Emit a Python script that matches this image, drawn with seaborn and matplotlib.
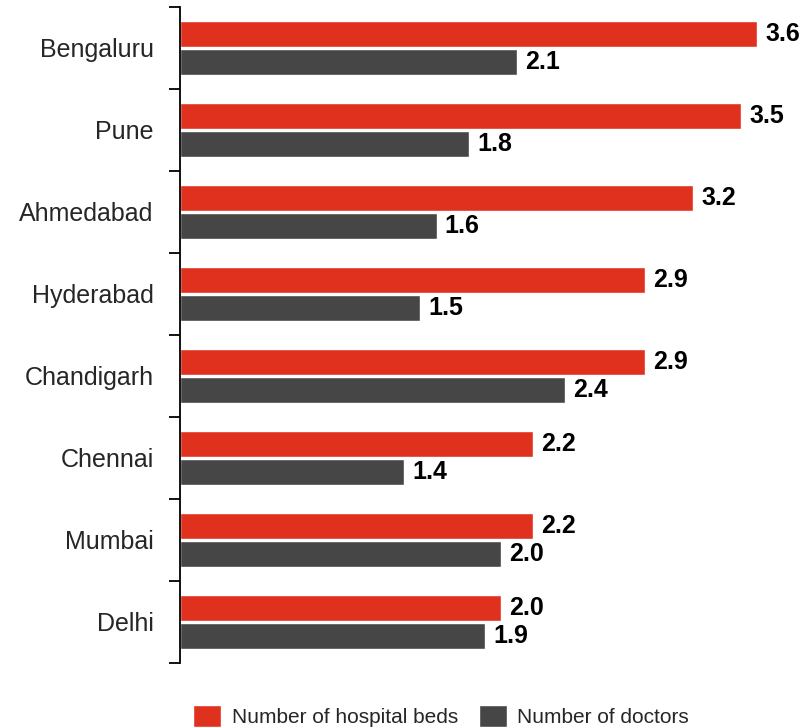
import pandas as pd
import matplotlib.pyplot as plt
import seaborn as sns

# city-level healthcare capacity
cities = ["Bengaluru", "Pune", "Ahmedabad", "Hyderabad",
          "Chandigarh", "Chennai", "Mumbai", "Delhi"]
hospital_beds = [3.6, 3.5, 3.2, 2.9, 2.9, 2.2, 2.2, 2.0]
doctors = [2.1, 1.8, 1.6, 1.5, 2.4, 1.4, 2.0, 1.9]
series = ["Number of hospital beds", "Number of doctors"]
colors = ["#E0301E", "#464646"]


def main():
    sns.set_theme(style="white")
    plt.rcParams["font.family"] = ["Liberation Sans", "DejaVu Sans"]

    df = pd.DataFrame({
        "city": cities * 2,
        "value": hospital_beds + doctors,
        "series": [series[0]] * len(cities) + [series[1]] * len(cities),
    })

    fig = plt.figure(figsize=(8.05, 7.28), dpi=100)
    ax = fig.add_axes([0.2236, 0.0893, 0.7578, 0.9011])

    sns.barplot(data=df, y="city", x="value", hue="series", orient="h",
                palette=colors, width=0.69, gap=0.06, order=cities,
                hue_order=series, ax=ax, saturation=1)

    for cont in ax.containers:
        ax.bar_label(cont, fmt="%.1f", padding=6, fontsize=18,
                     fontweight="bold", color="black", clip_on=False)

    ax.set_xlim(0, 3.805)
    ax.set_ylim(len(cities) - 0.5, -0.5)
    ax.set_xlabel("")
    ax.set_ylabel("")
    ax.set_xticks([])

    # ticks sit on the group boundaries, labels at group centres
    ax.set_yticks([i - 0.5 for i in range(len(cities) + 1)], minor=True)
    ax.tick_params(axis="y", which="minor", length=8, width=1.3,
                   color="black", left=True, direction="out")
    ax.tick_params(axis="y", which="major", length=0, pad=19, labelsize=18)

    for side in ["top", "right", "bottom"]:
        ax.spines[side].set_visible(False)
    ax.spines["left"].set_color("black")
    ax.spines["left"].set_linewidth(1.3)

    handles, labels = ax.get_legend_handles_labels()
    ax.get_legend().remove()
    fig.legend(handles, labels, loc="center", bbox_to_anchor=(0.548, 0.016),
               ncol=2, frameon=False, fontsize=15, handlelength=1.35,
               handleheight=1.2, handletextpad=0.5, columnspacing=1.0)

    fig.savefig("out.png", dpi=100)


if __name__ == "__main__":
    main()
